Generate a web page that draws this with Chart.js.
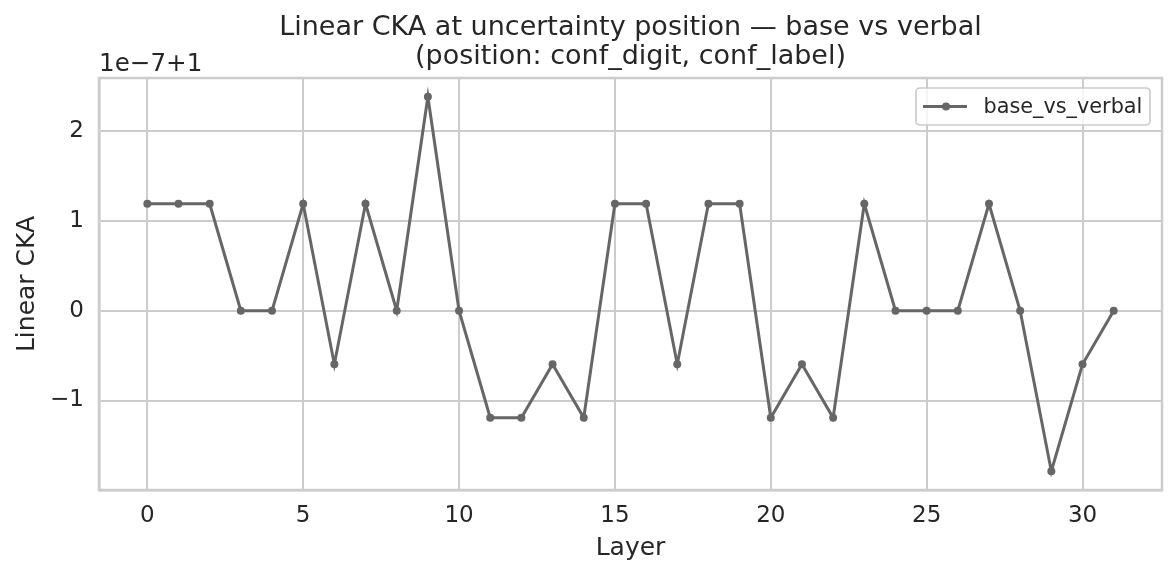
<!DOCTYPE html>
<html>
<head>
<meta charset="utf-8">
<script src="https://cdn.jsdelivr.net/npm/chart.js@4/dist/chart.umd.min.js"></script>
<style>
  html, body { margin: 0; padding: 0; background: #ffffff; }
  #wrap { width: 1176px; height: 576px; position: relative; }
</style>
</head>
<body>
<div id="wrap"><canvas id="c"></canvas></div>
<script>
// Data (values are offsets in units of 1e-7 from 1, as shown by the axis offset text "1e−7+1")
const layers = [0,1,2,3,4,5,6,7,8,9,10,11,12,13,14,15,16,17,18,19,20,21,22,23,24,25,26,27,28,29,30,31];
const baseVsVerbal = [1.192,1.192,1.192,0,0,1.192,-0.596,1.192,0,2.384,0,-1.192,-1.192,-0.596,-1.192,1.192,1.192,-0.596,1.192,1.192,-1.192,-0.596,-1.192,1.192,0,0,0,1.192,0,-1.788,-0.596,0];
const xTicks = [0,5,10,15,20,25,30];
const yTicks = [-1,0,1,2];
const seriesLabel = 'base_vs_verbal';
const titleLines = ['Linear CKA at uncertainty position \u2014 base vs verbal', '(position: conf_digit, conf_label)'];
const offsetText = '1e\u22127+1';

const TEXT = '#262626';
const GRID = '#cccccc';
const LINE = '#666666';
const FONT = 'DejaVu Sans';

const framePlugin = {
  id: 'frame',
  afterDatasetsDraw(chart) {
    const {ctx, chartArea: a} = chart;
    ctx.save();
    ctx.strokeStyle = GRID;
    ctx.lineWidth = 2.5;
    ctx.strokeRect(a.left, a.top, a.right - a.left, a.bottom - a.top);
    ctx.restore();
  },
  afterDraw(chart) {
    const {ctx, chartArea: a} = chart;
    ctx.save();
    // title, centred over the plot area
    ctx.fillStyle = TEXT;
    ctx.font = '27px "' + FONT + '"';
    ctx.textAlign = 'center';
    ctx.textBaseline = 'alphabetic';
    const cx = (a.left + a.right) / 2;
    ctx.fillText(titleLines[0], cx, a.top - 43);
    ctx.fillText(titleLines[1], cx, a.top - 14);
    // offset text
    ctx.font = '24.6px "' + FONT + '"';
    ctx.textAlign = 'left';
    ctx.fillText(offsetText, a.left, a.top - 7);
    // legend
    const right = a.right - 12, top = a.top + 10;
    const w = 234, h = 37;
    const left = right - w;
    ctx.beginPath();
    if (ctx.roundRect) ctx.roundRect(left, top, w, h, 4); else ctx.rect(left, top, w, h);
    ctx.fillStyle = 'rgba(255,255,255,0.8)';
    ctx.fill();
    ctx.strokeStyle = GRID;
    ctx.lineWidth = 1.7;
    ctx.stroke();
    const cy = top + h / 2;
    ctx.beginPath();
    ctx.moveTo(left + 7, cy);
    ctx.lineTo(left + 51, cy);
    ctx.strokeStyle = LINE;
    ctx.lineWidth = 3;
    ctx.stroke();
    ctx.beginPath();
    ctx.arc(left + 30, cy, 4, 0, Math.PI * 2);
    ctx.fillStyle = LINE;
    ctx.fill();
    ctx.fillStyle = TEXT;
    ctx.font = '20.8px "' + FONT + '"';
    ctx.textBaseline = 'middle';
    ctx.fillText(seriesLabel, left + 67.5, cy + 1);
    ctx.restore();
  }
};

new Chart(document.getElementById('c'), {
  type: 'line',
  data: {
    datasets: [{
      label: seriesLabel,
      data: layers.map((x, i) => ({x: x, y: baseVsVerbal[i]})),
      borderColor: LINE,
      backgroundColor: LINE,
      borderWidth: 3,
      pointRadius: 4,
      pointHoverRadius: 4,
      pointBorderWidth: 0,
      tension: 0,
      fill: false
    }]
  },
  options: {
    responsive: true,
    maintainAspectRatio: false,
    animation: false,
    devicePixelRatio: 1,
    layout: { padding: { left: 0, right: 14, top: 78, bottom: 0 } },
    plugins: {
      legend: { display: false },
      tooltip: { enabled: false },
      title: { display: false }
    },
    scales: {
      x: {
        type: 'linear',
        min: -1.55,
        max: 32.55,
        afterBuildTicks(s) { s.ticks = xTicks.map(v => ({value: v})); },
        afterFit(s) { s.height = 86; },
        grid: { color: GRID, lineWidth: 2, drawTicks: false },
        border: { display: true, color: GRID, width: 2.5 },
        ticks: {
          color: TEXT,
          font: { family: FONT, size: 23 },
          padding: 12,
          maxRotation: 0,
          callback: v => String(v)
        },
        title: {
          display: true,
          text: 'Layer',
          color: TEXT,
          font: { family: FONT, size: 25, lineHeight: 1.2 },
          padding: { top: 0, bottom: 13 }
        }
      },
      y: {
        type: 'linear',
        min: -1.997,
        max: 2.593,
        afterBuildTicks(s) { s.ticks = yTicks.map(v => ({value: v})); },
        afterFit(s) { s.width = 99; },
        grid: { color: GRID, lineWidth: 2, drawTicks: false },
        border: { display: true, color: GRID, width: 2.5 },
        ticks: {
          color: TEXT,
          font: { family: FONT, size: 23 },
          padding: 15,
          callback: v => (v < 0 ? '\u2212' + Math.abs(v) : String(v))
        },
        title: {
          display: true,
          text: 'Linear CKA',
          color: TEXT,
          font: { family: FONT, size: 25, lineHeight: 1.2 },
          padding: { top: 12, bottom: 0 }
        }
      }
    }
  },
  plugins: [framePlugin]
});
</script>
</body>
</html>
